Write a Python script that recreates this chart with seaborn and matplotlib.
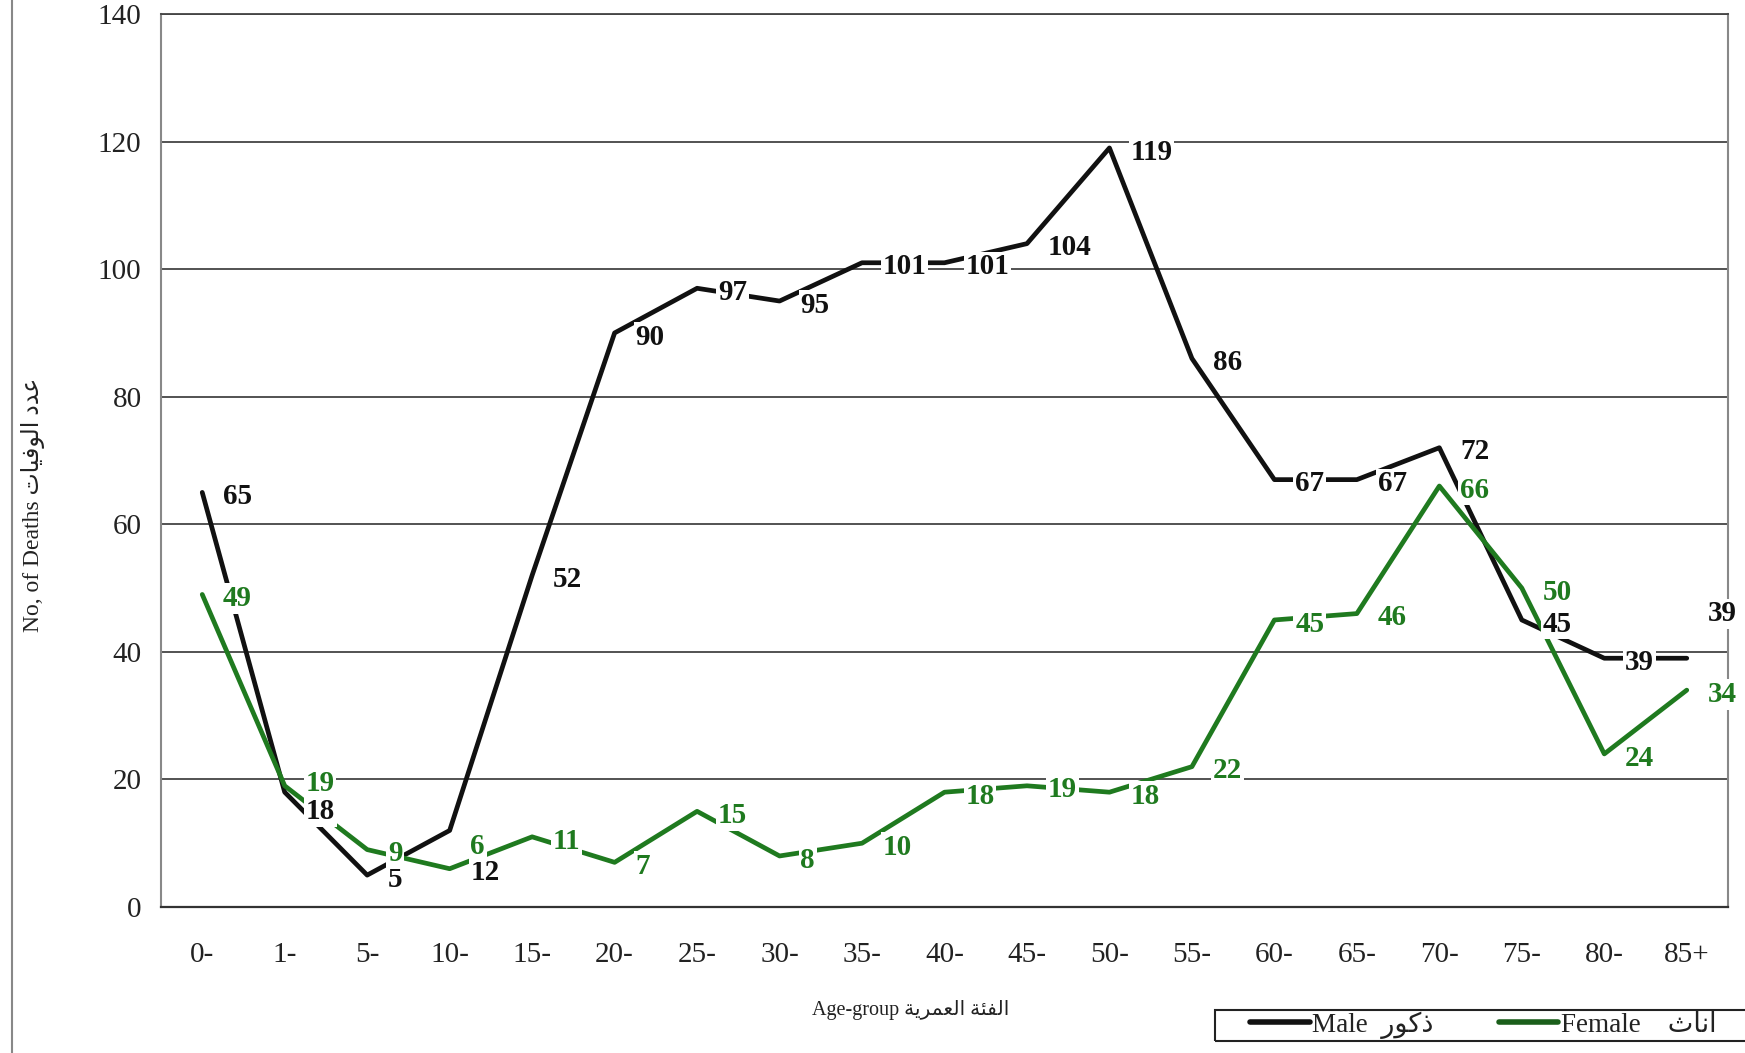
import numpy as np
import pandas as pd
import matplotlib
matplotlib.use("Agg")
import matplotlib.pyplot as plt
import seaborn as sns
from matplotlib.lines import Line2D
from matplotlib.patches import Rectangle

# ---------------- data ----------------
age_groups = ["0-", "1-", "5-", "10-", "15-", "20-", "25-", "30-", "35-", "40-",
              "45-", "50-", "55-", "60-", "65-", "70-", "75-", "80-", "85+"]
male = [65, 18, 5, 12, 52, 90, 97, 95, 101, 101, 104, 119, 86, 67, 67, 72, 45, 39, 39]
female = [49, 19, 9, 6, 11, 7, 15, 8, 10, 18, 19, 18, 22, 45, 46, 66, 50, 24, 34]
y_ticks = [0, 20, 40, 60, 80, 100, 120, 140]

# Arabic words written in visual order with presentation forms
AR_MALE = "\uFEAD\uFEEE\uFEDB\uFEAB"                      # ذكور
AR_FEMALE = "\uFE99\uFE8E\uFEE7\uFE8D"                    # اناث
AR_DEATHS = "\uFE95\uFE8E\uFEF4\uFED3\uFEEE\uFEDF\uFE8D \uFEA9\uFEAA\uFECB"   # عدد الوفيات
AR_AGE = "\uFE94\uFEF3\uFEAE\uFEE4\uFECC\uFEDF\uFE8D \uFE94\uFE8C\uFED4\uFEDF\uFE8D"  # الفئة العمرية

MALE_C = "#111111"
FEMALE_C = "#1f7a1f"

sns.set_theme(style="white")
FAM = ["Liberation Serif", "DejaVu Sans"]
plt.rcParams["font.family"] = FAM

df = pd.DataFrame({
    "Age": age_groups * 2,
    "Deaths": male + female,
    "Sex": ["Male"] * len(male) + ["Female"] * len(female),
})

W, H = 1745, 1053
fig = plt.figure(figsize=(W / 100, H / 100), dpi=100)
L, R, T, B = 161, 1728, 14, 907
ax = fig.add_axes([L / W, 1 - B / H, (R - L) / W, (B - T) / H])

sns.lineplot(data=df, x="Age", y="Deaths", hue="Sex", sort=False,
             palette={"Male": MALE_C, "Female": FEMALE_C},
             linewidth=3.4, legend=False, ax=ax, zorder=3)

# value labels (label nudges in points)
offsets_male = {1: (0, -11), 3: (0, -27), 18: (0, 35)}
offsets_female = {1: (0, 5), 3: (0, 19)}
for series, col, offs in ((male, MALE_C, offsets_male), (female, FEMALE_C, offsets_female)):
    for i, v in enumerate(series):
        dx, dy = offs.get(i, (0, 0))
        ax.annotate(str(v), xy=(i, v), xytext=(15 + dx, -3 + dy),
                    textcoords="offset points", ha="left", va="center",
                    fontsize=21, fontweight="bold", color=col,
                    family="Liberation Serif", zorder=6,
                    bbox=dict(facecolor="white", edgecolor="none", pad=1.2))

ax.set_xlim(-0.5, len(age_groups) - 0.5)
ax.set_ylim(0, 140)
ax.set_yticks(y_ticks)
ax.set_xticks(range(len(age_groups)))
ax.set_xticklabels(age_groups)
ax.set_xticks(np.arange(-0.5, len(age_groups)), minor=True)
ax.tick_params(axis="x", which="major", length=0, pad=25, labelsize=21, colors="#222")
ax.tick_params(axis="x", which="minor", length=9, width=1.3, direction="out", color="#555")
ax.tick_params(axis="y", which="major", length=9, width=1.3, direction="out",
               color="#555", pad=5, labelsize=21, labelcolor="#222")
ax.set_xlabel("")
ax.set_ylabel("")

ax.grid(axis="y", color="#444444", linewidth=1.3)
ax.grid(axis="x", visible=False)
for s in ("left", "right"):
    ax.spines[s].set_color("#888888")
    ax.spines[s].set_linewidth(1.5)
ax.spines["bottom"].set_color("#333333")
ax.spines["bottom"].set_linewidth(1.6)
ax.spines["top"].set_color("#444444")
ax.spines["top"].set_linewidth(1.3)

# axis titles
fig.text(33 / W, 1 - 505 / H, "No, of Deaths " + AR_DEATHS, rotation=90,
         ha="center", va="center", fontsize=17, color="#222", family=FAM)
fig.text(911 / W, 1 - 1010 / H, "Age-group " + AR_AGE, ha="center", va="center",
         fontsize=14.5, color="#222", family=FAM)

# outer frame line on the left
fig.add_artist(Line2D([12 / W, 12 / W], [0, 1], transform=fig.transFigure,
                      color="#888888", lw=1.5))

# legend
fig.add_artist(Rectangle((1215 / W, 1 - 1041 / H), (W - 1215) / W + 0.01, 31 / H,
                         transform=fig.transFigure, fill=False,
                         edgecolor="#222222", lw=1.5))
handles = [Line2D([], [], color=MALE_C, lw=4), Line2D([], [], color="#1a5e1a", lw=4)]
labels = ["Male  " + AR_MALE, "Female    " + AR_FEMALE]
fig.legend(handles, labels, loc="center left", bbox_to_anchor=(1250 / W, 1 - 1025 / H),
           ncol=2, frameon=False, prop={"family": FAM, "size": 19.5},
           handlelength=2.2, handletextpad=0.1, columnspacing=2.4,
           borderpad=0, borderaxespad=0, labelcolor="#222")

fig.savefig("out.png", dpi=100)
